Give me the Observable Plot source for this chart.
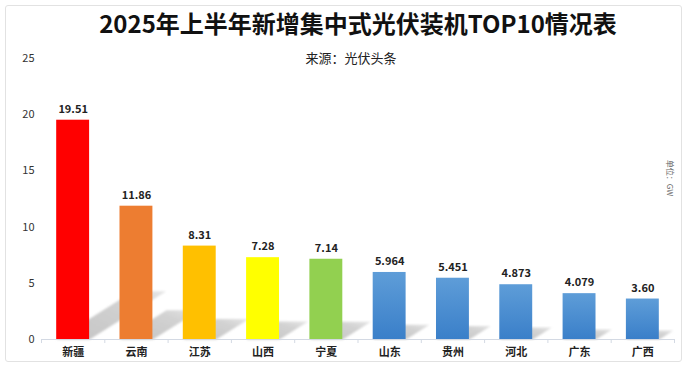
<!DOCTYPE html>
<html>
<head>
<meta charset="utf-8">
<script src="https://cdn.jsdelivr.net/npm/d3@7"></script>
<script src="https://cdn.jsdelivr.net/npm/@observablehq/plot@0.6"></script>
<style>
  html, body { margin: 0; padding: 0; background: #fff; }
  #wrap { position: relative; width: 686px; height: 368px; overflow: hidden; }
  #border { position: absolute; left: 5px; top: 5px; width: 675px; height: 355px; border: 1px solid #e2e2e2; border-radius: 3px; pointer-events: none; }
  #chart svg { display: block; }
</style>
</head>
<body>
<svg width="0" height="0" style="position:absolute">
  <defs>
    <linearGradient id="blueGrad" x1="0" y1="0" x2="0" y2="1">
      <stop offset="0" stop-color="#5e9dd8"/>
      <stop offset="1" stop-color="#3a7fc9"/>
    </linearGradient>
    <linearGradient id="shadowGrad" x1="0" y1="1" x2="1" y2="0">
      <stop offset="0" stop-color="#c4c4c4"/>
      <stop offset="0.7" stop-color="#d2d2d2"/>
      <stop offset="1" stop-color="#e6e6e6"/>
    </linearGradient>
    <filter id="soft" x="-10%" y="-10%" width="120%" height="120%">
      <feGaussianBlur stdDeviation="0.9"/>
    </filter>
  </defs>
</svg>
<div id="wrap">
  <div id="chart"></div>
  <div id="border"></div>
</div>
<script>
const titleText = "2025年上半年新增集中式光伏装机TOP10情况表";
const subtitleText = "来源：光伏头条";
const unitText = "单位：GW";
const provinces = ["新疆", "云南", "江苏", "山西", "宁夏", "山东", "贵州", "河北", "广东", "广西"];
const values = [19.51, 11.86, 8.31, 7.28, 7.14, 5.964, 5.451, 4.873, 4.079, 3.60];
const valueLabels = ["19.51", "11.86", "8.31", "7.28", "7.14", "5.964", "5.451", "4.873", "4.079", "3.60"];
const barColors = ["#FF0000", "#ED7D31", "#FFC000", "#FFFF00", "#92D050", "url(#blueGrad)", "url(#blueGrad)", "url(#blueGrad)", "url(#blueGrad)", "url(#blueGrad)"];
const yTicks = [0, 5, 10, 15, 20, 25];

const data = provinces.map((name, i) => ({i, name, value: values[i], label: valueLabels[i], color: barColors[i]}));
const boundaries = d3.range(0, provinces.length + 1);

// shadow parallelograms derived from each bar's value
const inset = 0.24;
const shadowPts = [];
for (const d of data) {
  const dyv = 0.22 * d.value;      // height of the shadow in value units
  const dxu = 0.062 * d.value;     // horizontal shear in category units
  shadowPts.push({name: d.name, x: d.i + inset, y: 0});
  shadowPts.push({name: d.name, x: d.i + 1 - inset, y: 0});
  shadowPts.push({name: d.name, x: d.i + 1 - inset + dxu, y: dyv});
  shadowPts.push({name: d.name, x: d.i + inset + dxu, y: dyv});
  shadowPts.push({name: d.name, x: d.i + inset, y: 0});
}

const font = "'Noto Sans CJK SC', 'Noto Sans', sans-serif";

const chart = Plot.plot({
  width: 686,
  height: 368,
  marginTop: 58,
  marginBottom: 29,
  marginLeft: 41,
  marginRight: 12,
  style: {fontFamily: font, fontSize: "11px", color: "#333", background: "transparent"},
  x: {domain: [0, provinces.length], axis: null},
  y: {domain: [0, 25], ticks: yTicks, tickSize: 0, tickPadding: 7, label: null},
  color: {type: "identity"},
  marks: [
    Plot.line(shadowPts, {x: "x", y: "y", z: "name", fill: "url(#shadowGrad)", stroke: "none"}),
    Plot.rectY(data, {x1: d => d.i + inset, x2: d => d.i + 1 - inset, y1: 0, y2: "value", fill: "color"}),
    Plot.ruleY([0], {stroke: "#d3d9e3", strokeWidth: 1}),
    Plot.ruleX(boundaries, {x: d => d, y1: 0, y2: -0.36, stroke: "#d3d9e3"}),
    Plot.text(data, {x: d => d.i + 0.5, y: "value", text: "label", dy: -11, fontWeight: "bold", fontSize: 11, fill: "#222"}),
    Plot.text(data, {x: d => d.i + 0.5, y: 0, text: "name", dy: 13, fontWeight: "bold", fontSize: 11, fill: "#222"}),
    Plot.text([titleText], {text: d => d, frameAnchor: "top", lineAnchor: "middle", dy: -33, fontSize: 24, fontWeight: "bold", fill: "#111"}),
    Plot.text([subtitleText], {text: d => d, frameAnchor: "top", lineAnchor: "middle", dy: 0, dx: -7, fontSize: 13, fill: "#222"}),
    Plot.text([unitText], {text: d => d, frameAnchor: "right", rotate: 90, textAnchor: "middle", lineAnchor: "middle", dx: -5, dy: -21, fontSize: 8, fill: "#666"})
  ]
});
d3.select(chart).selectAll('g[aria-label="line"] path').attr("filter", "url(#soft)");
document.getElementById("chart").appendChild(chart);
</script>
</body>
</html>
